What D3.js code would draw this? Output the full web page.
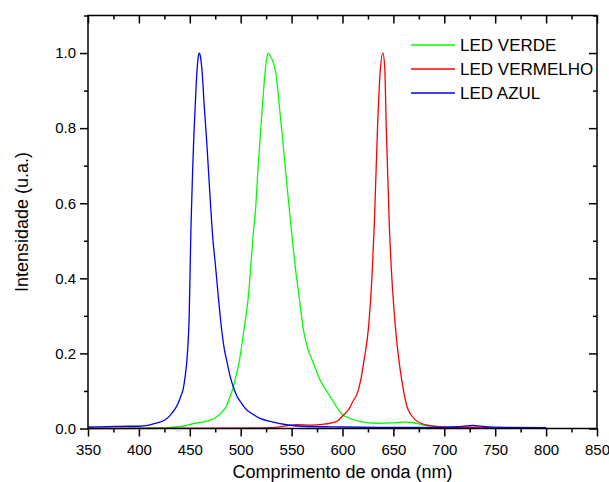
<!DOCTYPE html>
<html>
<head>
<meta charset="utf-8">
<script src="https://cdn.jsdelivr.net/npm/d3@7"></script>
<style>
	body { margin: 0; background: #fff; }
	svg { font-family: Arial, "Liberation Sans", sans-serif; }
	.axis path { display: none; }
	.axis line { stroke: #000; stroke-width: 1.5; }
	.axis text { font-size: 15px; fill: #000; }
	.line { fill: none; stroke-width: 1.3; }
</style>
</head>
<body>
<div id="chart"></div>
<script>
	// spectra (wavelength in nm, normalised intensity)
	var blueNm = [350, 370, 390, 400, 410, 417, 425, 430, 435, 438.6, 441, 443.5, 445.5, 447.4, 449.4, 451.1, 452.7, 454, 455.5, 457, 458.3, 459.3, 460.5, 462.2, 464.2, 466.5, 468.5, 470.5, 472.7, 475, 478, 481.3, 484, 486.8, 489.5, 492.7, 496, 500.9, 505, 510.8, 519, 530, 545, 560, 600, 650, 700, 715, 728, 740, 760, 800];
	var blueVal = [0.004, 0.005, 0.006, 0.006, 0.009, 0.014, 0.022, 0.033, 0.05, 0.067, 0.085, 0.105, 0.14, 0.19, 0.3, 0.53, 0.68, 0.78, 0.87, 0.95, 0.99, 1.0, 0.99, 0.947, 0.858, 0.769, 0.68, 0.591, 0.503, 0.44, 0.351, 0.263, 0.21, 0.174, 0.14, 0.111, 0.088, 0.067, 0.052, 0.04, 0.027, 0.018, 0.01, 0.006, 0.004, 0.003, 0.003, 0.005, 0.008, 0.005, 0.003, 0.002];

	var greenNm = [350, 400, 430, 443, 452, 460, 468, 476, 482, 486, 489.5, 492.7, 494.4, 498.3, 503.2, 507.5, 510.1, 512.4, 514.8, 516.7, 519, 521.3, 523.9, 525.5, 527.2, 529.6, 532.1, 534.5, 536.4, 538, 541.3, 544.3, 547.5, 550.5, 553.4, 557.4, 561.6, 565.6, 571.5, 578, 587.9, 600, 610, 620, 634, 650, 660, 668, 680, 690, 706, 730, 800];
	var greenVal = [0.0, 0.001, 0.003, 0.006, 0.012, 0.016, 0.02, 0.03, 0.045, 0.06, 0.085, 0.11, 0.129, 0.174, 0.263, 0.351, 0.44, 0.52, 0.591, 0.68, 0.769, 0.858, 0.947, 0.985, 1.0, 0.99, 0.974, 0.947, 0.903, 0.858, 0.769, 0.68, 0.591, 0.51, 0.435, 0.351, 0.263, 0.215, 0.174, 0.129, 0.085, 0.037, 0.024, 0.017, 0.014, 0.015, 0.017, 0.016, 0.009, 0.006, 0.003, 0.002, 0.001];

	var redNm = [350, 500, 530, 545, 555, 570, 580, 588, 595, 601, 606, 611, 614, 618, 620.7, 625.6, 628.9, 631.2, 634.4, 637, 639.7, 641.5, 643, 646, 648.5, 650.5, 653, 656.5, 660, 663.4, 667, 671.6, 683, 700, 750, 800];
	var redVal = [0.0, 0.001, 0.002, 0.007, 0.01, 0.009, 0.011, 0.014, 0.02, 0.036, 0.05, 0.076, 0.09, 0.13, 0.174, 0.27, 0.4, 0.54, 0.8, 0.95, 1.0, 0.96, 0.8, 0.54, 0.4, 0.32, 0.24, 0.16, 0.1, 0.058, 0.038, 0.023, 0.009, 0.004, 0.002, 0.001];

	var seriesNames = ["LED VERDE", "LED VERMELHO", "LED AZUL"];
	var seriesColors = ["#00ff00", "#ff0000", "#0000ff"];

	var xMajor = [350, 400, 450, 500, 550, 600, 650, 700, 750, 800, 850];
	var xMinor = [375, 425, 475, 525, 575, 625, 675, 725, 775, 825];
	var yMajor = [0.0, 0.2, 0.4, 0.6, 0.8, 1.0];
	var yMinor = [0.1, 0.3, 0.5, 0.7, 0.9, 1.1];

	function zip(xs, ys) {
		return xs.map(function(d, i) { return {nm: d, v: ys[i]}; });
	}

	var tracks = [zip(greenNm, greenVal), zip(redNm, redVal), zip(blueNm, blueVal)];

	var fullWidth = 609,
	    fullHeight = 482;

	var margin = {top: 15.5, right: 12, bottom: 53.5, left: 88},
	    width = fullWidth - margin.left - margin.right,
	    height = fullHeight - margin.top - margin.bottom;

	var xScale = d3.scaleLinear()
		.domain([350, 850])
		.range([0, width]);

	var yScale = d3.scaleLinear()
		.domain([0, 1.1])
		.range([height, 0]);

	var svg = d3.select("#chart").append("svg")
		.attr("width", fullWidth)
		.attr("height", fullHeight)
	  .append("g")
		.attr("transform", "translate(" + margin.left + "," + margin.top + ")");

	// bottom and left: ticks pointing out, labels on the majors
	svg.append("g")
		.attr("class", "x axis")
		.attr("transform", "translate(0," + height + ")")
		.call(d3.axisBottom(xScale).tickValues(xMajor).tickSize(8).tickPadding(8)
			.tickFormat(d3.format("d")));

	svg.append("g")
		.attr("class", "x axis minor")
		.attr("transform", "translate(0," + height + ")")
		.call(d3.axisBottom(xScale).tickValues(xMinor).tickSize(4).tickFormat(""));

	svg.append("g")
		.attr("class", "y axis")
		.call(d3.axisLeft(yScale).tickValues(yMajor).tickSize(8).tickPadding(4)
			.tickFormat(d3.format(".1f")));

	svg.append("g")
		.attr("class", "y axis minor")
		.call(d3.axisLeft(yScale).tickValues(yMinor).tickSize(4).tickFormat(""));

	// top and right: ticks pointing into the plot, no labels
	svg.append("g")
		.attr("class", "axis")
		.call(d3.axisTop(xScale).tickValues(xMajor).tickSize(-8).tickFormat(""));

	svg.append("g")
		.attr("class", "axis")
		.call(d3.axisTop(xScale).tickValues(xMinor).tickSize(-4).tickFormat(""));

	svg.append("g")
		.attr("class", "axis")
		.attr("transform", "translate(" + width + ",0)")
		.call(d3.axisRight(yScale).tickValues(yMajor).tickSize(-8).tickFormat(""));

	svg.append("g")
		.attr("class", "axis")
		.attr("transform", "translate(" + width + ",0)")
		.call(d3.axisRight(yScale).tickValues(yMinor).tickSize(-4).tickFormat(""));

	var line = d3.line()
		.curve(d3.curveMonotoneX)
		.x(function(d) { return xScale(d.nm); })
		.y(function(d) { return yScale(d.v); });

	svg.selectAll(".line")
		.data(tracks)
		.enter().append("path")
		.attr("class", "line")
		.attr("d", line)
		.style("stroke", function(d, i) { return seriesColors[i]; });

	// frame
	svg.append("rect")
		.attr("width", width)
		.attr("height", height)
		.attr("fill", "none")
		.attr("stroke", "#000")
		.attr("stroke-width", 1.5);

	// legend
	var legend = svg.selectAll(".legend")
		.data(seriesNames)
		.enter().append("g")
		.attr("class", "legend")
		.attr("transform", function(d, i) {
			return "translate(" + (411 - margin.left) + "," + (45 - margin.top + i * 24) + ")";
		});

	legend.append("line")
		.attr("x1", 0)
		.attr("x2", 44)
		.attr("stroke-width", 1.3)
		.attr("stroke", function(d, i) { return seriesColors[i]; });

	legend.append("text")
		.attr("x", 49)
		.attr("dy", "0.36em")
		.style("font-size", "17px")
		.text(function(d) { return d; });

	// axis titles
	svg.append("text")
		.attr("x", width / 2)
		.attr("y", height + 49.5)
		.attr("text-anchor", "middle")
		.style("font-size", "18px")
		.text("Comprimento de onda (nm)");

	svg.append("text")
		.attr("transform", "translate(" + (28 - margin.left) + "," + (height / 2) + ") rotate(-90)")
		.attr("text-anchor", "middle")
		.style("font-size", "18px")
		.text("Intensidade (u.a.)");
</script>
</body>
</html>
